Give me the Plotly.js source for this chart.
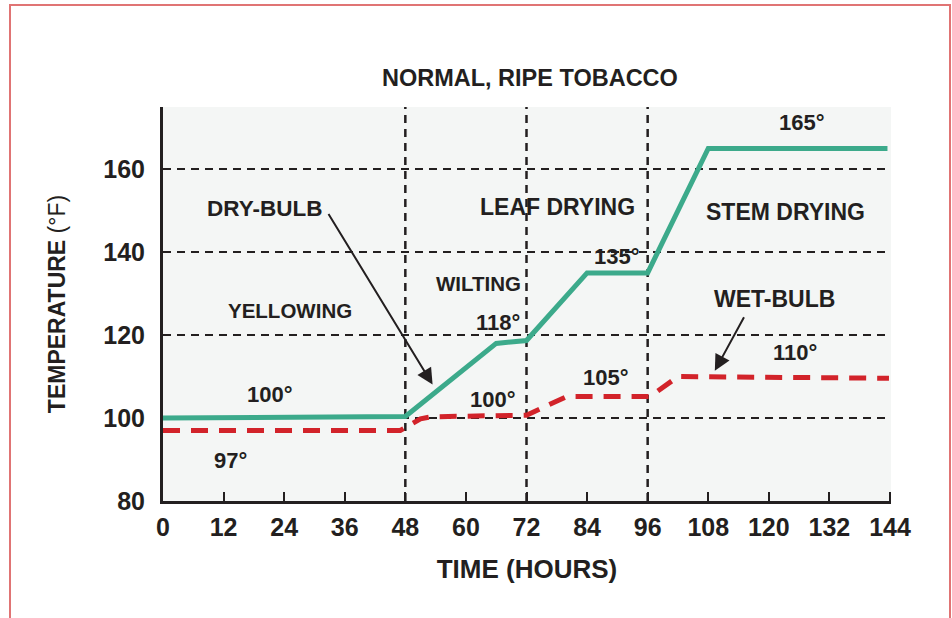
<!DOCTYPE html>
<html>
<head>
<meta charset="utf-8">
<script src="https://cdn.plot.ly/plotly-3.0.1.min.js"></script>
<style>
  html, body { margin: 0; padding: 0; width: 952px; height: 618px; overflow: hidden; background: #ffffff; }
  #chart { position: absolute; left: 0; top: 0; width: 952px; height: 618px; }
  #frame { position: absolute; left: 9px; top: 4px; width: 938px; height: 700px;
           border-left: 2px solid #e07474; border-right: 2px solid #e07474; border-top: 2px solid #e07474;
           pointer-events: none; }
</style>
</head>
<body>
<div id="chart"></div>
<div id="frame"></div>
<script>
// ---- data ----
const dryHours = [0, 48, 66, 72, 84, 96, 108, 143.5];
const dryBulb  = [100, 100.4, 118, 118.7, 135, 135, 165, 165];

const wetHours = [0, 47, 51, 53, 72, 80, 96.5, 102, 143.8];
const wetBulb  = [97, 97, 99.8, 100.3, 100.7, 105.2, 105.2, 110, 109.6];

const xTicks = [0, 12, 24, 36, 48, 60, 72, 84, 96, 108, 120, 132, 144];
const yTicks = [80, 100, 120, 140, 160];
const phaseBoundaries = [48, 72, 96];

const phaseLabels = ["YELLOWING", "WILTING", "LEAF DRYING", "STEM DRYING"];
const phaseLabelX = [25.1, 62.5, 78.2, 123.4];
const phaseLabelY = [126, 132.4, 151, 149.8];
const phaseLabelSize = [20.5, 20.5, 23, 23];

const tempLabels = ["100°", "97°", "118°", "100°", "135°", "105°", "165°", "110°"];
const tempLabelX = [21.2, 13.4, 66.3, 65.3, 90, 87.8, 126.5, 125.1];
const tempLabelY = [105.7, 89.8, 123.1, 104.5, 139, 109.8, 171.2, 115.7];

const seriesNames = ["DRY-BULB", "WET-BULB"];

// ---- styling ----
const FONT = '"Liberation Sans", Arial, Helvetica, sans-serif';
const INK = '#231f20';
const GREEN = '#3caa8b';
const RED = '#d2232a';

const traces = [
  { x: dryHours, y: dryBulb, name: seriesNames[0], mode: 'lines', type: 'scatter',
    line: { color: GREEN, width: 5 }, hoverinfo: 'x+y' },
  { x: wetHours, y: wetBulb, name: seriesNames[1], mode: 'lines', type: 'scatter',
    line: { color: RED, width: 5, dash: '17px,11px' }, hoverinfo: 'x+y' }
];

const annotations = [];
phaseLabels.forEach((t, i) => annotations.push({
  x: phaseLabelX[i], y: phaseLabelY[i], xref: 'x', yref: 'y', text: t, showarrow: false,
  font: { family: FONT, size: phaseLabelSize[i], color: INK, weight: 'bold' }
}));
tempLabels.forEach((t, i) => annotations.push({
  x: tempLabelX[i], y: tempLabelY[i], xref: 'x', yref: 'y', text: t, showarrow: false,
  font: { family: FONT, size: 22, color: INK, weight: 'bold' }
}));
// series name labels with arrows
annotations.push({
  x: 20.2, y: 150.5, xref: 'x', yref: 'y', text: seriesNames[0], showarrow: false,
  font: { family: FONT, size: 22.5, color: INK, weight: 'bold' }
});
annotations.push({
  x: 53.4, y: 108.1, xref: 'x', yref: 'y', text: '', showarrow: true,
  ax: -105, ay: -172, arrowhead: 2, arrowsize: 1.6, arrowwidth: 2, arrowcolor: INK
});
annotations.push({
  x: 121.1, y: 128.8, xref: 'x', yref: 'y', text: seriesNames[1], showarrow: false,
  font: { family: FONT, size: 23, color: INK, weight: 'bold' }
});
annotations.push({
  x: 109.3, y: 111.4, xref: 'x', yref: 'y', text: '', showarrow: true,
  ax: 30, ay: -55, arrowhead: 2, arrowsize: 1.6, arrowwidth: 2, arrowcolor: INK
});

const shapes = phaseBoundaries.map(h => ({
  type: 'line', xref: 'x', yref: 'paper', x0: h, x1: h, y0: 0, y1: 1, layer: 'below',
  line: { color: INK, width: 2.5, dash: '8px,6px' }
}));

const layout = {
  width: 952, height: 618,
  margin: { l: 163, r: 61, t: 107, b: 117 },
  paper_bgcolor: '#ffffff',
  plot_bgcolor: '#f4f6f5',
  showlegend: false,
  font: { family: FONT, color: INK },
  title: {
    text: 'NORMAL, RIPE TOBACCO',
    x: 0.504, xref: 'paper', xanchor: 'center',
    y: 1 - 78 / 618, yref: 'container', yanchor: 'middle',
    font: { family: FONT, size: 23.5, color: INK, weight: 'bold' }
  },
  xaxis: {
    range: [0, 144.2], tickvals: xTicks, ticktext: xTicks.map(String),
    ticks: 'inside', ticklen: 9, tickwidth: 2, tickcolor: INK,
    showline: true, linecolor: INK, linewidth: 3,
    showgrid: false, zeroline: false,
    ticklabelstandoff: 2,
    tickfont: { family: FONT, size: 25, color: INK, weight: 'bold' },
    title: { text: '\u00a0\u00a0\u00a0\u00a0TIME (HOURS)', standoff: 20,
             font: { family: FONT, size: 26, color: INK, weight: 'bold' } }
  },
  yaxis: {
    range: [80, 175], tickvals: yTicks, ticktext: yTicks.map(String),
    ticks: '', showline: true, linecolor: INK, linewidth: 3,
    showgrid: true, gridcolor: INK, gridwidth: 2.5, griddash: '8px,6px',
    zeroline: false,
    ticklabelstandoff: 10,
    tickfont: { family: FONT, size: 25, color: INK, weight: 'bold' },
    title: { text: 'TEMPERATURE <span style="font-weight:normal">(°F)</span>', standoff: 32,
             font: { family: FONT, size: 23, color: INK, weight: 'bold' } }
  },
  annotations: annotations,
  shapes: shapes
};

Plotly.newPlot('chart', traces, layout, { displayModeBar: false, staticPlot: true });
</script>
</body>
</html>
